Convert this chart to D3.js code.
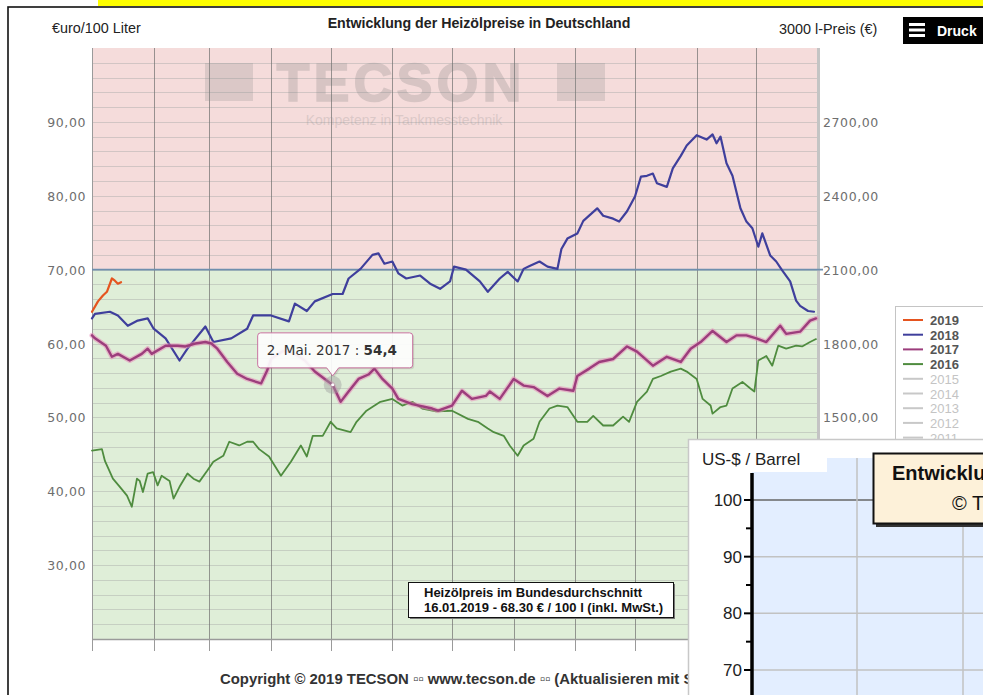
<!DOCTYPE html>
<html><head><meta charset="utf-8">
<script src="https://cdn.jsdelivr.net/npm/d3@7"></script>
<style>
body{margin:0;background:#fff;overflow:hidden;}
svg{display:block;font-family:"Liberation Sans",Arial,sans-serif;}
</style>
</head><body>
<svg id="c" width="983" height="695"></svg>
<script>
// ---------- DATA ----------
const monthStartDays = [0,31,59,90,120,151,181,212,243,273,304,334,365];
const yTicksLeft = [30,40,50,60,70,80,90];
const yTicksRight = [900,1200,1500,1800,2100,2400,2700];
const legendYears = ["2019","2018","2017","2016","2015","2014","2013","2012","2011"];
const legendActive = [true,true,true,true,false,false,false,false,false];
const barrelTicks = [70,80,90,100];
const barrelMinor = [75,85,95];

const days2019 = [0,3,5.5,7.5,10,11.5,13,14.6];
const vals2019 = [64.3,65.7,66.5,67.0,68.8,68.5,68.1,68.3];

const days2018 = [0,1.5,9,13,18,23,28,31,37,44,48,57,61,70,78,81,90,99,102,108,112,121,126,129,135,141,144,147,151,154,158,165,170,175,180,182,188,195,199,205,209,214,217,220,225,229,234,236,239,244,247,254,257,262,265,269,273,276,279,282,284,289,292,296,299,304,309,312,314,316,319,322,326,329,332,335,337,341,344,347,351,354,356,360,363];
const vals2018 = [63.4,64.0,64.3,63.8,62.4,63.1,63.4,62.0,60.7,57.7,59.3,62.3,60.2,60.7,62.0,63.8,63.8,63.0,65.4,64.4,65.7,66.7,66.7,68.8,70.1,72.0,72.2,70.8,71.1,69.5,68.8,69.2,68.1,67.4,68.4,70.4,70.0,68.4,67.0,68.8,69.7,68.4,70.1,70.5,71.1,70.4,70.1,72.8,74.2,74.9,76.6,78.3,77.3,76.9,76.5,77.9,79.9,82.6,82.7,83.0,81.7,81.2,83.7,85.4,86.8,88.2,87.6,88.3,87.1,88.0,84.4,82.7,78.3,76.5,75.6,73.1,74.9,71.9,71.1,69.9,68.4,65.8,65.1,64.4,64.3];

const days2017 = [0,1.5,7,10,13,19,25,28,30,37,43,47,52,57,60,63,68,73,78,85,88,90,96,102,107,112,117,121,125,129,134,139,142,146,151,154,161,171,174,181,186,191,198,200,205,212,217,222,229,235,242,244,250,255,262,269,274,282,289,296,301,306,312,319,324,329,334,339,346,349,356,361,364];
const vals2017 = [61.1,60.7,59.7,58.2,58.6,57.7,58.6,59.3,58.6,59.7,59.7,59.6,60.0,60.2,60.0,59.3,57.5,55.9,55.2,54.6,56.3,57.9,59.0,58.6,57.7,56.2,55.2,54.4,52.1,53.5,55.2,55.8,56.6,55.2,53.9,52.5,51.8,51.2,50.9,51.6,53.6,52.5,52.9,53.5,52.5,55.2,54.3,54.1,52.9,53.9,53.6,55.6,56.6,57.5,57.9,59.6,58.9,57.0,58.2,57.5,59.3,60.2,61.7,60.2,61.1,61.1,60.7,60.2,62.4,61.3,61.6,63.1,63.4];

const days2016 = [0,5,6.5,10.5,14,17.6,20,22.6,24,25.6,28,30.7,33,35,39,41,44,48,51,54,58,61,66,69,74,78,81,84,89,95,100,105,108,111,116,120,123,130,133,138,145,151,156,161,166,173,181,189,194,199,202,207,210,214,217,222,225,230,234,239,244,249,252,257,262,267,270,274,279,282,286,291,296,299,304,307,311,312,316,319,322,327,331,333,335,339,342,345,349,354,357,361,364];
const vals2016 = [45.5,45.7,44.1,41.7,40.6,39.4,37.9,41.7,41.4,39.9,42.4,42.6,40.8,42.1,41.4,39.0,40.6,42.4,41.7,41.3,42.8,44.0,44.8,46.7,46.2,46.7,46.7,45.7,44.7,42.1,44.0,46.2,44.7,47.5,47.5,49.4,48.5,48.0,49.4,50.9,52.1,52.5,51.6,52.1,51.2,50.8,50.9,49.8,49.4,48.5,48.0,47.5,46.2,44.8,46.2,47.1,49.4,51.2,51.6,51.4,49.4,49.4,50.2,48.9,48.9,50.1,49.4,52.1,53.5,55.2,55.6,56.2,56.6,56.2,55.2,52.5,51.6,50.5,51.4,51.6,53.9,54.8,53.9,53.5,57.7,58.3,57.0,59.7,59.3,59.7,59.6,60.2,60.6];

const tooltipDay = 121, tooltipVal = 54.4;

// ---------- DRAW ----------
const svg = d3.select("#c");
svg.append("rect").attr("width",983).attr("height",695).attr("fill","#fff");
svg.append("defs").append("clipPath").attr("id","cpLeft").append("rect").attr("x",0).attr("y",0).attr("width",688).attr("height",695);

// top yellow bar and frame
svg.append("rect").attr("x",98).attr("y",0).attr("width",900).attr("height",6).attr("fill","#ffff00");
svg.append("rect").attr("x",8).attr("y",7).attr("width",1000).attr("height",720)
  .attr("fill","none").attr("stroke","#111").attr("stroke-width",1.6);

const x = d3.scaleLinear().domain([0,365]).range([92,818]);
const y = d3.scaleLinear().domain([20,100]).range([639,48]);
const yR = d3.scaleLinear().domain([600,3000]).range([639,48]);

// backgrounds
svg.append("rect").attr("x",x(0)).attr("y",y(100)).attr("width",x(365)-x(0)).attr("height",y(70)-y(100)).attr("fill","#f5dcdb");
svg.append("rect").attr("x",x(0)).attr("y",y(70)).attr("width",x(365)-x(0)).attr("height",y(20)-y(70)).attr("fill","#dfeed8");

// horizontal minor grid every 2
const hg = d3.range(22,100,2);
svg.append("g").selectAll("line").data(hg).join("line")
  .attr("x1",x(0)).attr("x2",x(365)).attr("y1",d=>Math.round(y(d))+0.5).attr("y2",d=>Math.round(y(d))+0.5)
  .attr("stroke","#a8a8a8").attr("stroke-opacity",0.45).attr("stroke-width",1);

// vertical month lines
svg.append("g").selectAll("line").data(monthStartDays.slice(1,12)).join("line")
  .attr("x1",d=>Math.round(x(d))+0.5).attr("x2",d=>Math.round(x(d))+0.5).attr("y1",y(100)).attr("y2",y(20))
  .attr("stroke","#6f6f6f").attr("stroke-opacity",0.7).attr("stroke-width",1);

// watermark
const wm = svg.append("g").attr("opacity",0.24);
wm.append("rect").attr("x",205).attr("y",63).attr("width",48).attr("height",38).attr("fill","#8a8a8a");
wm.append("rect").attr("x",557).attr("y",63).attr("width",48).attr("height",38).attr("fill","#8a8a8a");
wm.append("text").attr("x",401).attr("y",101).attr("text-anchor","middle").attr("font-size",54).attr("font-weight","bold")
  .attr("letter-spacing",4).attr("fill","#7a7a7a").attr("stroke","#7a7a7a").attr("stroke-width",1.5).text("TECSON");
wm.append("text").attr("x",404).attr("y",125).attr("text-anchor","middle").attr("font-size",14)
  .attr("fill","#8a8a8a").text("Kompetenz in Tankmesstechnik");

// plot borders
svg.append("line").attr("x1",92.5).attr("x2",92.5).attr("y1",48).attr("y2",650).attr("stroke","#9a9a9a");
svg.append("line").attr("x1",92).attr("x2",818).attr("y1",639.5).attr("y2",639.5).attr("stroke","#9a9a9a").attr("stroke-width",1.5);
svg.append("line").attr("x1",818.5).attr("x2",818.5).attr("y1",48).attr("y2",640).attr("stroke","#c4c4c4").attr("stroke-width",3);
svg.append("g").selectAll("line").data(monthStartDays).join("line")
  .attr("x1",d=>Math.round(x(d))+0.5).attr("x2",d=>Math.round(x(d))+0.5).attr("y1",640).attr("y2",651)
  .attr("stroke","#9a9a9a");

// 70 line
svg.append("line").attr("x1",92).attr("x2",823).attr("y1",y(70)).attr("y2",y(70))
  .attr("stroke","#6f8fae").attr("stroke-width",1.6);

// axis labels
svg.append("g").selectAll("text").data(yTicksLeft).join("text")
  .attr("x",86).attr("y",d=>y(d)+5).attr("text-anchor","end")
  .attr("font-family","DejaVu Sans").attr("font-size",12.5).attr("letter-spacing",0.6).attr("fill","#6e6e6e")
  .text(d=>d3.format(".2f")(d).replace(".",","));
svg.append("g").selectAll("text").data(yTicksRight.filter(d=>yR(d)<438)).join("text")
  .attr("x",823).attr("y",d=>yR(d)+5)
  .attr("font-family","DejaVu Sans").attr("font-size",12.5).attr("letter-spacing",0.6).attr("fill","#6e6e6e")
  .text(d=>d3.format(".2f")(d).replace(".",","));

// headers
svg.append("text").attr("x",52).attr("y",33).attr("font-size",14.4).attr("fill","#222").text("€uro/100 Liter");
svg.append("text").attr("x",479).attr("y",28).attr("text-anchor","middle").attr("font-size",14.2).attr("font-weight","bold").attr("fill","#222").text("Entwicklung der Heizölpreise in Deutschland");
svg.append("text").attr("x",779).attr("y",34).attr("font-size",14.4).attr("fill","#222").text("3000 l-Preis (€)");

// Druck button
svg.append("rect").attr("x",903).attr("y",17).attr("width",90).attr("height",27).attr("fill","#000");
[23,28.5,34].forEach(t=>svg.append("rect").attr("x",909).attr("y",t).attr("width",16).attr("height",3).attr("fill","#fff"));
svg.append("text").attr("x",937).attr("y",36).attr("font-size",14).attr("font-weight","bold").attr("fill","#fff").text("Druck");

// series
const line = d3.line().x(d=>x(d[0])).y(d=>y(d[1]));
const zip = (a,b)=>a.map((d,i)=>[d,b[i]]);
const g = svg.append("g").attr("fill","none").attr("stroke-linejoin","round").attr("stroke-linecap","round");
g.append("path").datum(zip(days2016,vals2016)).attr("d",line).attr("stroke","#4f8c3f").attr("stroke-width",1.8);
g.append("path").datum(zip(days2018,vals2018)).attr("d",line).attr("stroke","#3f3f9c").attr("stroke-width",2.2);
g.append("path").datum(zip(days2017,vals2017)).attr("d",line).attr("stroke","#e58ab8").attr("stroke-opacity",0.55).attr("stroke-width",5);
g.append("path").datum(zip(days2017,vals2017)).attr("d",line).attr("stroke","#9c3d7c").attr("stroke-width",2.4);
g.append("path").datum(zip(days2019,vals2019)).attr("d",line).attr("stroke","#e5541f").attr("stroke-width",2.2);

// hover point
const px = x(tooltipDay), py = y(tooltipVal);
svg.append("circle").attr("cx",px).attr("cy",py).attr("r",9).attr("fill","#a0a0a0").attr("fill-opacity",0.45);
svg.append("circle").attr("cx",px).attr("cy",py).attr("r",1.5).attr("fill","#fff");

// tooltip
const tx0 = px-75, tx1 = px+80, ty0 = py-52, ty1 = py-17, tip = py-9;
const tpath = `M${tx0+3},${ty0} H${tx1-3} Q${tx1},${ty0} ${tx1},${ty0+3} V${ty1-3} Q${tx1},${ty1} ${tx1-3},${ty1} H${px+6} L${px},${tip} L${px-6},${ty1} H${tx0+3} Q${tx0},${ty1} ${tx0},${ty1-3} V${ty0+3} Q${tx0},${ty0} ${tx0+3},${ty0} Z`;
svg.append("path").attr("d",tpath).attr("transform","translate(1.5,1.5)").attr("fill","#000").attr("fill-opacity",0.1);
svg.append("path").attr("d",tpath).attr("fill","#fff").attr("fill-opacity",0.92).attr("stroke","#c8729f").attr("stroke-width",1);
const tt = svg.append("text").attr("x",tx0+9).attr("y",ty0+22).attr("font-family","DejaVu Sans").attr("font-size",13.5).attr("fill","#333");
tt.append("tspan").text(`2. Mai. 2017 : `);
tt.append("tspan").attr("font-weight","bold").text(d3.format(".1f")(tooltipVal).replace(".",","));

// info box
svg.append("rect").attr("x",410).attr("y",584).attr("width",265).attr("height",35).attr("fill","#777");
svg.append("rect").attr("x",408.5).attr("y",582.5).attr("width",265).attr("height",35).attr("fill","#fff").attr("stroke","#111");
svg.append("text").attr("x",424).attr("y",597).attr("font-size",13).attr("font-weight","bold").attr("fill","#111").text("Heizölpreis im Bundesdurchschnitt");
svg.append("text").attr("x",424).attr("y",612).attr("font-size",13).attr("font-weight","bold").attr("fill","#111").text("16.01.2019 - 68.30 € / 100 l (inkl. MwSt.)");

// copyright (hidden behind overlay window beyond x=688)
svg.append("text").attr("clip-path","url(#cpLeft)").attr("x",220).attr("y",684).attr("font-size",14.9).attr("font-weight","bold").attr("fill","#333")
  .text("Copyright © 2019 TECSON \u25AB\u25AB www.tecson.de \u25AB\u25AB (Aktualisieren mit Strg+F5)");

// legend
svg.append("rect").attr("x",895.5).attr("y",306.5).attr("width",100).attr("height",140).attr("fill","#fff").attr("stroke","#c4c4c4");
const colors = {"2019":"#e5541f","2018":"#3f3f9c","2017":"#9c3d7c","2016":"#4f8c3f"};
const lg = svg.append("g").selectAll("g").data(legendYears).join("g").attr("transform",(d,i)=>`translate(0,${320+i*14.7})`);
lg.append("line").attr("x1",903).attr("x2",923).attr("y1",0).attr("y2",0).attr("stroke-width",2)
  .attr("stroke",(d,i)=>legendActive[i]?colors[d]:"#c8c8c8");
lg.append("text").attr("x",930).attr("y",5).attr("font-size",13).attr("font-weight",(d,i)=>legendActive[i]?"bold":"normal")
  .attr("fill",(d,i)=>legendActive[i]?"#555":"#c4c4c4").text(d=>d);

// ---------- overlay window (oil price) ----------
const ov = svg.append("g");
ov.append("rect").attr("x",690).attr("y",441).attr("width",300).attr("height",260).attr("fill","#999").attr("fill-opacity",0.5);
ov.append("rect").attr("x",688.5).attr("y",439.5).attr("width",300).attr("height",260).attr("fill","#fff").attr("stroke","#c8c8c8").attr("stroke-width",1.5);
ov.append("rect").attr("x",752).attr("y",458).attr("width",240).attr("height",240).attr("fill","#e3eeff");
ov.append("rect").attr("x",690).attr("y",441).attr("width",137).attr("height",31).attr("fill","#fff");
const yb = d3.scaleLinear().domain([70,100]).range([670,500]);
ov.append("g").selectAll("line").data(barrelTicks).join("line")
  .attr("x1",752).attr("x2",990).attr("y1",d=>yb(d)).attr("y2",d=>yb(d))
  .attr("stroke",d=>d===100?"#666":"#c2c2c2").attr("stroke-width",1.5);
ov.append("g").selectAll("line").data([857,963]).join("line")
  .attr("x1",d=>d).attr("x2",d=>d).attr("y1",458).attr("y2",700).attr("stroke","#c2c2c2").attr("stroke-width",1.5);
ov.append("line").attr("x1",752).attr("x2",752).attr("y1",473).attr("y2",700).attr("stroke","#000").attr("stroke-width",3.5);
ov.append("g").selectAll("line").data(barrelTicks).join("line")
  .attr("x1",744).attr("x2",752).attr("y1",d=>yb(d)).attr("y2",d=>yb(d)).attr("stroke","#000").attr("stroke-width",2);
ov.append("g").selectAll("line").data(barrelMinor).join("line")
  .attr("x1",746).attr("x2",752).attr("y1",d=>yb(d)).attr("y2",d=>yb(d)).attr("stroke","#000").attr("stroke-width",2);
ov.append("g").selectAll("text").data(barrelTicks).join("text")
  .attr("x",742).attr("y",d=>yb(d)+6).attr("text-anchor","end").attr("font-size",17).attr("fill","#222").text(d=>d);
ov.append("text").attr("x",702).attr("y",465).attr("font-size",17).attr("fill","#222").text("US-$ / Barrel");
ov.append("rect").attr("x",876).attr("y",456).attr("width",120).attr("height",71).attr("fill","#333");
ov.append("rect").attr("x",873.5).attr("y",453.5).attr("width",120).attr("height",70).attr("fill","#fdf1d9").attr("stroke","#111").attr("stroke-width",2);
ov.append("text").attr("x",892).attr("y",480).attr("font-size",20).attr("font-weight","bold").attr("fill","#111").text("Entwicklung");
ov.append("text").attr("x",952).attr("y",510).attr("font-size",20).attr("fill","#111").text("© TECSON");
</script>
</body></html>
